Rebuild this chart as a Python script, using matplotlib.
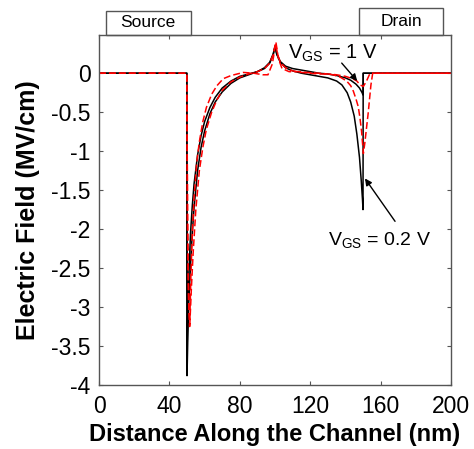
import matplotlib
matplotlib.use("Agg")
import matplotlib.pyplot as plt
from matplotlib.patches import Rectangle

plt.rcParams['font.family'] = ['Liberation Sans', 'DejaVu Sans']

# black solid, VGS = 0.2 V
bk1_x = [0, 49.9, 50.0, 50.5, 51, 52, 53, 54, 56, 58, 60, 63, 66, 70, 75, 80, 85, 90, 94, 97,
         99, 100, 101, 103, 106, 110, 115, 120, 125, 130, 135, 138, 141, 143, 145, 146.5,
         148, 149, 149.7, 150.0, 150.1, 200]
bk1_y = [0, 0, -3.88, -3.35, -2.95, -2.45, -2.05, -1.72, -1.25, -0.95, -0.74, -0.52, -0.37,
         -0.24, -0.13, -0.06, -0.02, 0.02, 0.07, 0.14, 0.25, 0.35, 0.25, 0.14, 0.07, 0.03,
         0.0, -0.02, -0.04, -0.06, -0.10, -0.15, -0.25, -0.37, -0.55, -0.78, -1.08, -1.38,
         -1.62, -1.75, 0, 0]

# black solid, VGS = 1 V
bk2_x = [0, 49.9, 50.0, 50.4, 51, 52, 53, 54, 56, 58, 60, 63, 66, 70, 75, 80, 85, 90, 94, 97,
         99, 100, 101, 103, 106, 110, 115, 120, 125, 130, 135, 140, 143, 146, 148, 149.5,
         150.0, 150.1, 200]
bk2_y = [0, 0, -3.6, -3.1, -2.6, -2.05, -1.7, -1.42, -1.05, -0.8, -0.62, -0.44, -0.31, -0.19,
         -0.1, -0.04, -0.01, 0.02, 0.06, 0.13, 0.24, 0.34, 0.24, 0.15, 0.09, 0.06, 0.04, 0.02,
         0.0, -0.01, -0.03, -0.06, -0.09, -0.14, -0.19, -0.25, -0.28, 0, 0]

# red dashed, VGS = 0.2 V
rd1_x = [0, 49.9, 50.3, 51.0, 51.6, 52.5, 53.5, 55, 57, 59, 61, 64, 67, 70, 75, 80, 85, 90,
         94, 97, 99, 100.3, 101.5, 103, 106, 110, 115, 120, 125, 130, 133, 137, 140.7, 143,
         144.5, 146, 147.3, 148.3, 149.2, 150.2, 151, 152, 153, 153.5, 154.5, 155.5, 200]
rd1_y = [0, 0, -2.0, -3.0, -3.22, -2.75, -2.3, -1.75, -1.25, -0.95, -0.72, -0.5, -0.34,
         -0.22, -0.11, -0.05, -0.01, 0.02, 0.06, 0.13, 0.24, 0.38, 0.24, 0.14, 0.07, 0.03,
         0.01, 0.0, -0.01, -0.01, -0.02, -0.05, -0.1, -0.16, -0.23, -0.33, -0.43, -0.58,
         -0.75, -1.03, -0.9, -0.7, -0.5, -0.38, -0.15, 0, 0]

# red dashed, VGS = 1 V
rd2_x = [0, 49.9, 50.3, 50.9, 51.5, 52.2, 53, 54, 55.5, 57, 59, 61, 64, 67, 70.6, 75, 82, 88,
         93, 96, 98.5, 100.5, 102, 104, 108, 113, 118, 125, 130, 135, 140, 144, 146.5, 148.3,
         150.2, 152, 153, 154, 200]
rd2_y = [0, 0, -1.8, -2.9, -3.25, -2.6, -2.05, -1.6, -1.15, -0.88, -0.62, -0.44, -0.27, -0.16,
         -0.07, -0.03, 0.01, 0.0, -0.02, -0.02, 0.12, 0.4, 0.18, 0.06, 0.02, 0.02, 0.01, 0.0,
         -0.01, -0.02, -0.04, -0.07, -0.1, -0.15, -0.17, -0.1, -0.05, 0, 0]

xticks = [0, 40, 80, 120, 160, 200]
yticks = [0, -0.5, -1, -1.5, -2, -2.5, -3, -3.5, -4]
ytick_labels = ['0', '-0.5', '-1', '-1.5', '-2', '-2.5', '-3', '-3.5', '-4']

fig = plt.figure(figsize=(4.74, 4.49), dpi=100)
ax = fig.add_axes([0.2089, 0.1425, 0.7426, 0.7795])

ax.plot(bk1_x, bk1_y, color='black', lw=1.1)
ax.plot(bk2_x, bk2_y, color='black', lw=1.1)
ax.plot(rd1_x, rd1_y, color='#ff0000', lw=1.1, ls=(0, (4.5, 2)))
ax.plot(rd2_x, rd2_y, color='#ff0000', lw=1.1, ls=(0, (4.5, 2)))

ax.set_xlim(0, 200)
ax.set_ylim(-4, 0.49)
ax.set_xticks(xticks)
ax.set_yticks(yticks)
ax.set_yticklabels(ytick_labels)
ax.tick_params(direction='in', length=3, width=0.8, labelsize=16.5, colors='#555555',
               labelcolor='black', top=True, right=True)
ax.tick_params(axis='x', pad=7)
ax.tick_params(axis='y', pad=6)
for s in ax.spines.values():
    s.set_color('#555555')
    s.set_linewidth(1.0)

ax.set_xlabel('Distance Along the Channel (nm)', fontsize=17, fontweight='bold', labelpad=4)
ax.set_ylabel('Electric Field (MV/cm)', fontsize=18, fontweight='bold', labelpad=8)

# Source / Drain boxes above the axes
for x0, w, h, label in [(0.02, 0.24, 0.069, 'Source'), (0.739, 0.239, 0.077, 'Drain')]:
    ax.add_patch(Rectangle((x0, 1.0), w, h, transform=ax.transAxes, fill=False,
                           ec='#555555', lw=1.0, clip_on=False))
    ax.text(x0 + w / 2, 1.0 + h / 2, label, transform=ax.transAxes, ha='center',
            va='center', fontsize=12.5)

arrow = dict(arrowstyle='-|>', color='black', lw=1.0, mutation_scale=10,
             shrinkA=0, shrinkB=0)
ax.text(133, 0.25, '$\\mathregular{V_{GS}}$ = 1 V', ha='center', va='center', fontsize=14.5)
ax.annotate('', xy=(146.7, -0.1), xytext=(137.9, 0.13), arrowprops=arrow)
ax.text(159.5, -2.14, '$\\mathregular{V_{GS}}$ = 0.2 V', ha='center', va='center',
        fontsize=14)
ax.annotate('', xy=(151.1, -1.35), xytext=(168.2, -1.9), arrowprops=arrow)

fig.savefig('out.png', dpi=100)
